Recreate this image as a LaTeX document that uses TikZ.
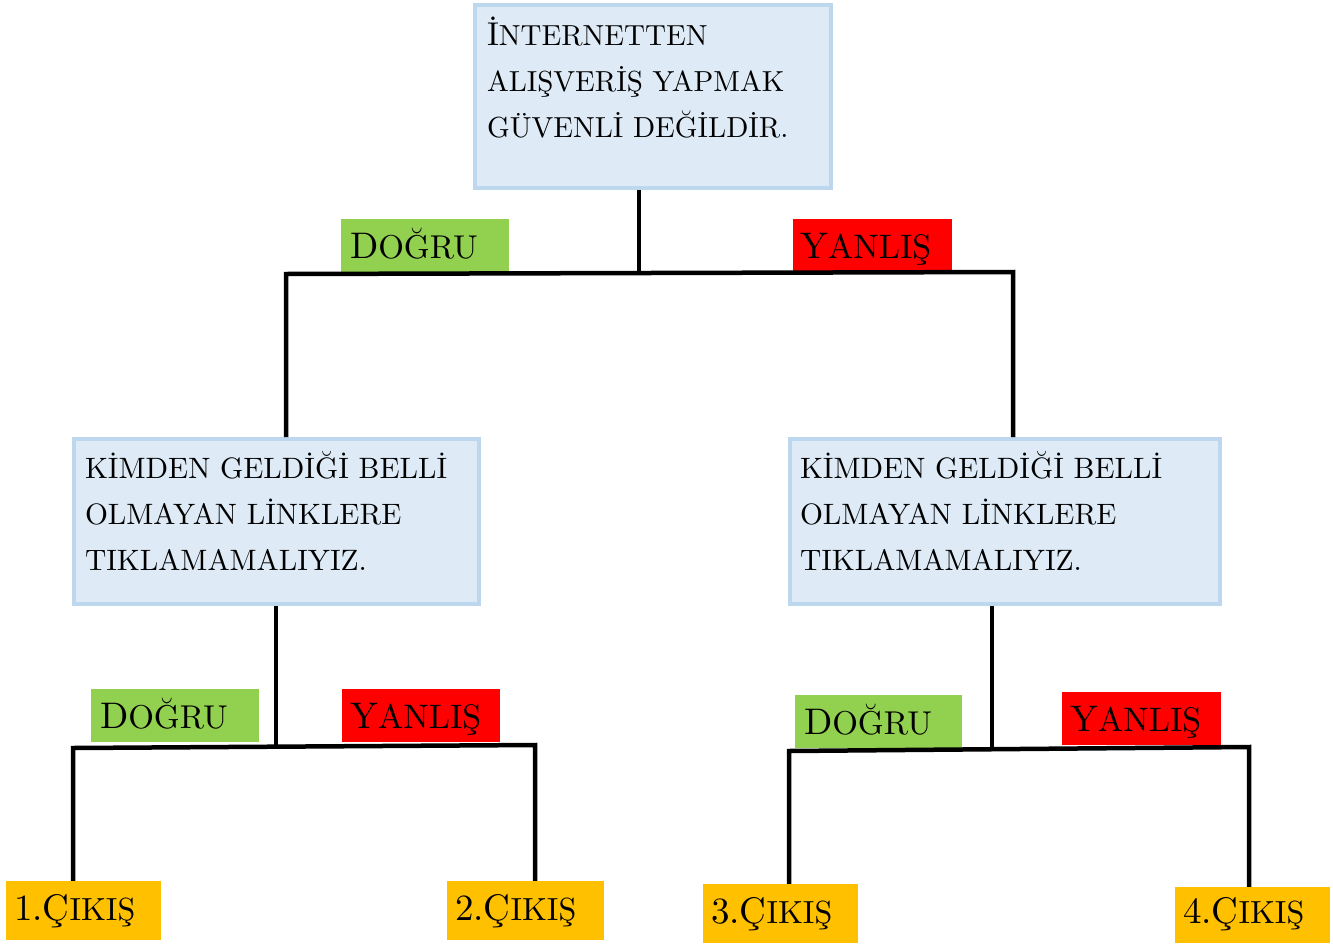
\documentclass[tikz,border=0pt]{standalone}
\usepackage{fontspec}
\setmainfont{lmroman10-regular}[Extension=.otf]
\usetikzlibrary{positioning}
\definecolor{kutu}{HTML}{DEEBF7}
\definecolor{kenar}{HTML}{BDD7EE}
\definecolor{yesil}{HTML}{92D050}
\definecolor{kirmizi}{HTML}{FF0000}
\definecolor{turuncu}{HTML}{FFC000}
\newcommand{\kc}[2][29.5]{{\fontsize{#1}{46}\selectfont #2}}

\begin{document}
\begin{tikzpicture}[x=1pt,y=-1pt,
	soru/.style={draw=kenar, fill=kutu, line width=4pt, inner ysep=0pt, font=\fontsize{33}{46}\selectfont},
	etiket/.style={fill=#1, inner xsep=9pt, inner ysep=0pt, text height=39pt, text depth=14pt, align=left, font=\fontsize{37}{46}\selectfont},
	cikis/.style={fill=turuncu, inner xsep=8pt, inner ysep=0pt, text height=39pt, text depth=20pt, text width=139pt, align=left, font=\fontsize{37}{46}\selectfont},
	hat/.style={line width=4.5pt, black}]
	\useasboundingbox (0,0) rectangle (1333,945);
	% sorular
	\node (kok) [soru, inner xsep=12pt] at (653,96.5) {\parbox[c][183pt][t]{332pt}{\rule{0pt}{40pt}İ\kc[29]{NTERNETTEN}\\\kc[29]{ALIŞVERİŞ YAPMAK}\\\kc[29]{GÜVENLİ DEĞİLDİR.}}};
	\node (solsoru) [soru, inner xsep=11pt] at (276.5,521.5) {\parbox[c][165pt][t]{383pt}{\rule{0pt}{39pt}\kc{KİMDEN GELDİĞİ BELLİ}\\\kc{OLMAYAN LİNKLERE}\\\kc{TIKLAMAMALIYIZ.}}};
	\node (sagsoru) [soru, inner xsep=10pt] at (1005,521.5) {\parbox[c][165pt][t]{410pt}{\rule{0pt}{39pt}\kc{KİMDEN GELDİĞİ BELLİ}\\\kc{OLMAYAN LİNKLERE}\\\kc{TIKLAMAMALIYIZ.}}};
	% cevaplar
	\node (dogru0) [etiket=yesil, text width=150pt] at (425,245.5) {D\kc[33]{OĞRU}};
	\node (yanlis0) [etiket=kirmizi, inner xsep=7pt, text width=145pt] at (872.5,245.5) {Y\kc[34]{ANLIŞ}};
	\node (dogru1) [etiket=yesil, text width=150pt] at (175,715.5) {D\kc[33]{OĞRU}};
	\node (yanlis1) [etiket=kirmizi, inner xsep=8pt, text width=142pt] at (421,715.5) {Y\kc[34]{ANLIŞ}};
	\node (dogru2) [etiket=yesil, text width=149pt] at (878.5,721.5) {D\kc[33]{OĞRU}};
	\node (yanlis2) [etiket=kirmizi, inner xsep=8pt, text width=143pt] at (1141.5,718.5) {Y\kc[34]{ANLIŞ}};
	% cikislar
	\node (cikis1) [cikis] at (83.5,910.5) {1.Ç\kc[32]{IKIŞ}};
	\node (cikis2) [cikis, text width=141pt] at (525.5,910.5) {2.Ç\kc[32]{IKIŞ}};
	\node (cikis3) [cikis] at (780.5,913.5) {3.Ç\kc[32]{IKIŞ}};
	\node (cikis4) [cikis, text height=36pt] at (1252.5,915) {4.Ç\kc[32]{IKIŞ}};
	% baglantilar
	\coordinate (k0) at (639,273);
	\coordinate (k1) at (286,274);
	\coordinate (k2) at (1013,272);
	\draw [hat] (kok.south -| k0) -- (k0);
	\draw [hat] (solsoru.north -| k1) -- (k1) -- (k2) -- (sagsoru.north -| k2);
	\coordinate (s0) at (276,747);
	\coordinate (s1) at (73,748);
	\coordinate (s2) at (535,745);
	\draw [hat] (solsoru.south -| s0) -- (s0);
	\draw [hat] (cikis1.north -| s1) -- (s1) -- (s2) -- (cikis2.north -| s2);
	\coordinate (r0) at (992,749);
	\coordinate (r1) at (789,751);
	\coordinate (r2) at (1249,747);
	\draw [hat] (sagsoru.south -| r0) -- (r0);
	\draw [hat] (cikis3.north -| r1) -- (r1) -- (r2) -- (cikis4.north -| r2);
\end{tikzpicture}
\end{document}
